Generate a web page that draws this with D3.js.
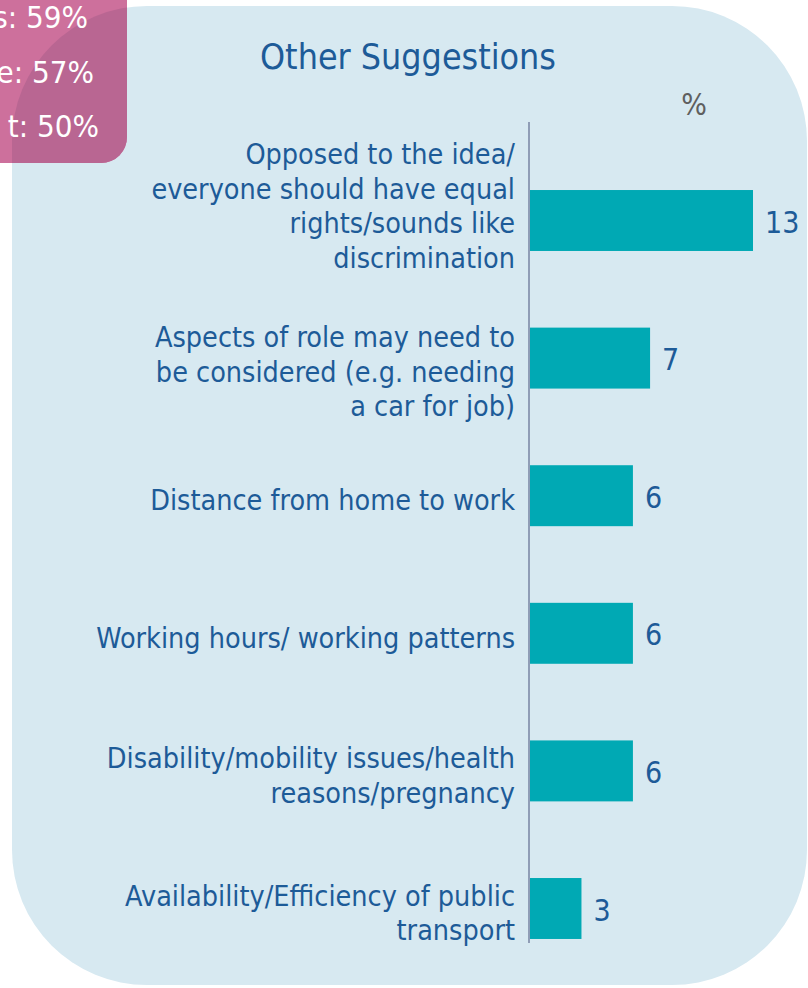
<!DOCTYPE html>
<html lang="en">
    <head>
        <meta charset="utf-8">
        <title>Other Suggestions</title>
        <script type="text/javascript" src="https://cdn.jsdelivr.net/npm/d3@7"></script>
        <style type="text/css">
            body { margin: 0; background: #ffffff; }
            svg { display: block; }
        </style>
    </head>

    <body>
        <script type="text/javascript">
            // Chart data
            var categories = [
                ["Opposed to the idea/", "everyone should have equal", "rights/sounds like", "discrimination"],
                ["Aspects of role may need to", "be considered (e.g. needing", "a car for job)"],
                ["Distance from home to work"],
                ["Working hours/ working patterns"],
                ["Disability/mobility issues/health", "reasons/pregnancy"],
                ["Availability/Efficiency of public", "transport"]
            ];
            var values = [13, 7, 6, 6, 6, 3];
            var title = "Other Suggestions";
            var unitLabel = "%";
            // pink callout, only the tail end of each line shows on the page
            var calloutLines = ["s: 59%", "e: 57%", "t: 50%"];

            var w = 808;
            var h = 988;
            var font = "'DejaVu Sans Condensed', 'DejaVu Sans', sans-serif";
            var blue = "#1d5b98";
            // small vertical nudges for the wrapped labels, as placed in the original
            var labelShift = [-19, 9, 0, 0, 0, 0];

            var svg = d3.select("body")
                        .append("svg")
                        .attr("width", w)
                        .attr("height", h);

            // Light blue rounded panel
            svg.append("rect")
                .attr("x", 12)
                .attr("y", 6)
                .attr("width", 795)
                .attr("height", 979)
                .attr("rx", 135)
                .attr("fill", "#d7e9f1");

            // Pink callout box, top-left, hanging off the page
            var defs = svg.append("defs");
            defs.append("clipPath")
                .attr("id", "calloutClip")
                .append("rect")
                .attr("x", -40)
                .attr("y", -40)
                .attr("width", 167)
                .attr("height", 203)
                .attr("rx", 26);

            svg.append("rect")
                .attr("x", -40)
                .attr("y", -40)
                .attr("width", 167)
                .attr("height", 203)
                .attr("rx", 26)
                .attr("fill", "#cd709c");

            // where the callout overlaps the panel it looks darker
            svg.append("rect")
                .attr("x", 12)
                .attr("y", 6)
                .attr("width", 795)
                .attr("height", 979)
                .attr("rx", 135)
                .attr("clip-path", "url(#calloutClip)")
                .attr("fill", "#b96692");

            svg.selectAll("text.callout")
                .data(calloutLines)
                .enter()
                .append("text")
                .attr("class", "callout")
                .text(function(d) { return d; })
                .attr("x", function(d, i) { return [88, 94, 99][i]; })
                .attr("y", function(d, i) { return 28 + i * 54.5; })
                .attr("text-anchor", "end")
                .attr("font-family", font)
                .attr("font-size", "31px")
                .attr("fill", "#ffffff");

            // Title and unit
            svg.append("text")
                .text(title)
                .attr("x", 408)
                .attr("y", 69)
                .attr("text-anchor", "middle")
                .attr("font-family", font)
                .attr("font-size", "35.5px")
                .attr("fill", blue);

            svg.append("text")
                .text(unitLabel)
                .attr("x", 694)
                .attr("y", 115)
                .attr("text-anchor", "middle")
                .attr("font-family", font)
                .attr("font-size", "30px")
                .attr("fill", "#5f5f5f");

            // Scales
            var x0 = 530;
            var xScale = d3.scaleLinear()
                            .domain([0, 13])
                            .range([x0, 753]);

            var yScale = d3.scaleBand()
                            .domain(d3.range(values.length))
                            .range([151.7, 977.3])
                            .paddingInner(0.557)
                            .paddingOuter(0.2785);

            var mid = function(i) { return yScale(i) + yScale.bandwidth() / 2; };

            // Bars
            svg.selectAll("rect.bar")
                .data(values)
                .enter()
                .append("rect")
                .attr("class", "bar")
                .attr("x", x0)
                .attr("y", function(d, i) { return yScale(i); })
                .attr("width", function(d) { return xScale(d) - x0; })
                .attr("height", yScale.bandwidth())
                .attr("fill", "#00a9b4");

            // Vertical axis line
            svg.append("line")
                .attr("x1", x0 - 1)
                .attr("x2", x0 - 1)
                .attr("y1", 122)
                .attr("y2", 943)
                .attr("stroke", "#8f9db6")
                .attr("stroke-width", 2);

            // Value labels
            svg.selectAll("text.value")
                .data(values)
                .enter()
                .append("text")
                .attr("class", "value")
                .text(function(d) { return d; })
                .attr("x", function(d) { return xScale(d) + 12; })
                .attr("y", function(d, i) { return mid(i) + 12; })
                .attr("font-family", font)
                .attr("font-size", "30px")
                .attr("fill", blue);

            // Category labels, right aligned against the axis
            var lineH = 34.7;
            var labels = svg.selectAll("text.cat")
                .data(categories)
                .enter()
                .append("text")
                .attr("class", "cat")
                .attr("text-anchor", "end")
                .attr("font-family", font)
                .attr("font-size", "28.5px")
                .attr("fill", blue);

            labels.each(function(lines, i) {
                var first = mid(i) + 14.5 + labelShift[i] - (lines.length - 1) / 2 * lineH;
                d3.select(this).selectAll("tspan")
                    .data(lines)
                    .enter()
                    .append("tspan")
                    .attr("x", 515)
                    .attr("y", function(d, j) { return first + j * lineH; })
                    .text(function(d) { return d; });
            });
        </script>
    </body>
</html>
